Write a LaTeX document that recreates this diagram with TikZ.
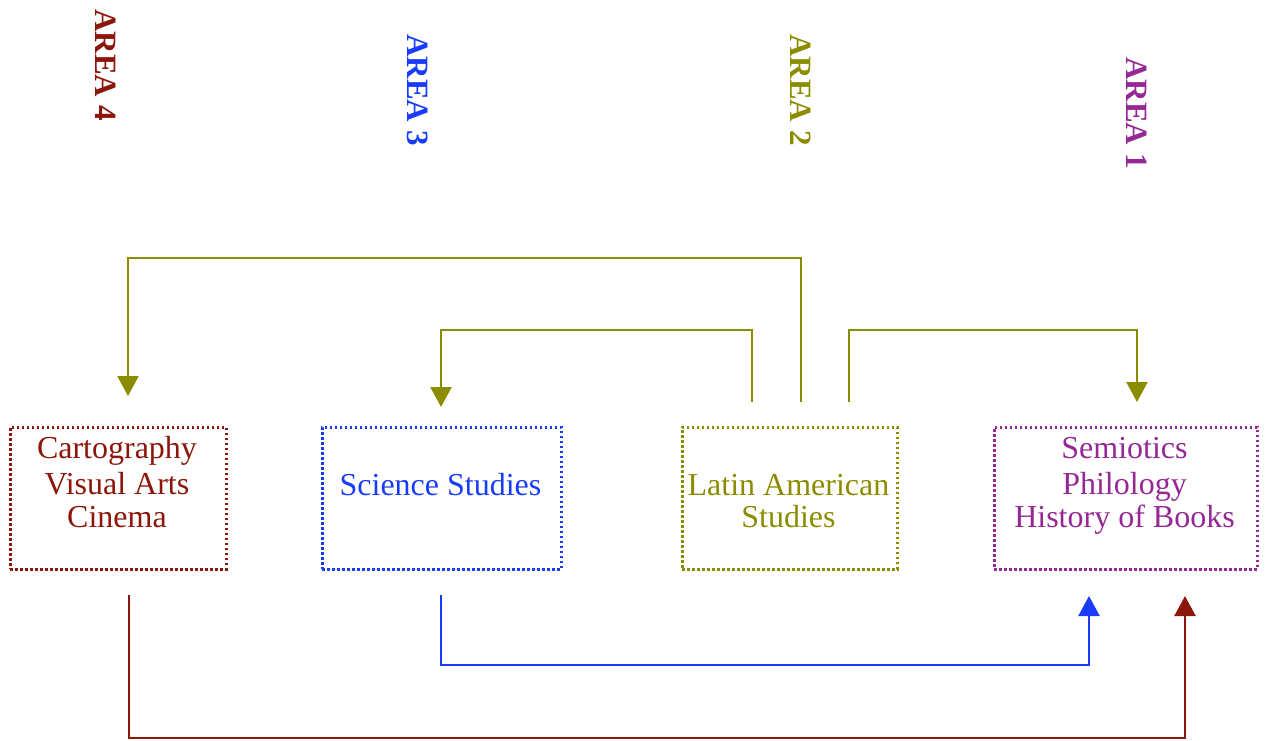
\documentclass[tikz,border=0pt]{standalone}
\usepackage{fontspec}
\setmainfont{Liberation Serif}
\usetikzlibrary{arrows.meta}
\definecolor{cred}{RGB}{140,22,10}
\definecolor{cblue}{RGB}{25,60,250}
\definecolor{colive}{RGB}{140,140,0}
\definecolor{cpurple}{RGB}{150,40,150}
\tikzset{
  boxstyle/.style={draw, line width=2.6pt, dash pattern=on 2.6pt off 2.4pt, inner sep=0pt, anchor=north west},
  lbl/.style={font=\fontsize{32}{35}\selectfont, anchor=base, inner sep=0pt, align=center},
  area/.style={font=\fontsize{31}{35}\selectfont\bfseries, rotate=-90, inner sep=0pt},
  conn/.style={line width=2.4pt},
  arr/.style={conn, -{Triangle[width=21pt,length=20pt]}}
}
\begin{document}
\begin{tikzpicture}[x=1pt,y=-1pt]
\useasboundingbox (0,0) rectangle (1267,740);
% area labels
\node[area, text=cred] (a4) at (106,65) {AREA 4};
\node[area, text=cblue] (a3) at (418,90) {AREA 3};
\node[area, text=colive] (a2) at (801,90) {AREA 2};
\node[area, text=cpurple] (a1) at (1137,113) {AREA 1};
% boxes
\node[boxstyle, cred, minimum width=216pt, minimum height=142pt] (b4) at (9,426) {};
\node[boxstyle, cblue, minimum width=239pt, minimum height=142pt] (b3) at (321,426) {};
\node[boxstyle, colive, minimum width=215pt, minimum height=142pt] (b2) at (681,426) {};
\node[boxstyle, cpurple, minimum width=263pt, minimum height=142pt] (b1) at (993,426) {};
% texts
\node[lbl, text=cred] (t4a) at (117,458) {Cartography};
\node[lbl, text=cred] (t4b) at (117,494) {Visual Arts};
\node[lbl, text=cred] (t4c) at (117,527) {Cinema};
\node[lbl, text=cblue] (t3a) at (440.5,495) {Science Studies};
\node[lbl, text=colive] (t2a) at (788.5,495) {Latin American};
\node[lbl, text=colive] (t2b) at (788.5,527) {Studies};
\node[lbl, text=cpurple] (t1a) at (1124.5,458) {Semiotics};
\node[lbl, text=cpurple] (t1b) at (1124.5,494) {Philology};
\node[lbl, text=cpurple] (t1c) at (1124.5,527) {History of Books};
% connector end points
\coordinate (s2a) at (752,402);
\coordinate (s2b) at (801,402);
\coordinate (s2c) at (849,402);
\coordinate (e4) at (128,396);
\coordinate (e3) at (441,407);
\coordinate (e1) at (1137,402);
\coordinate (s4) at (129,595);
\coordinate (s3) at (441,595);
\coordinate (e1b) at (1089,596);
\coordinate (e1r) at (1185,596);
% olive connectors
\draw[arr, colive] (s2b) -- (s2b |- 0,258) -- (e4 |- 0,258) -- (e4);
\draw[arr, colive] (s2a) -- (s2a |- 0,330) -- (e3 |- 0,330) -- (e3);
\draw[arr, colive] (s2c) -- (s2c |- 0,330) -- (e1 |- 0,330) -- (e1);
% blue and red connectors
\draw[arr, cblue] (s3) -- (s3 |- 0,665) -- (e1b |- 0,665) -- (e1b);
\draw[arr, cred] (s4) -- (s4 |- 0,738) -- (e1r |- 0,738) -- (e1r);
\end{tikzpicture}
\end{document}
